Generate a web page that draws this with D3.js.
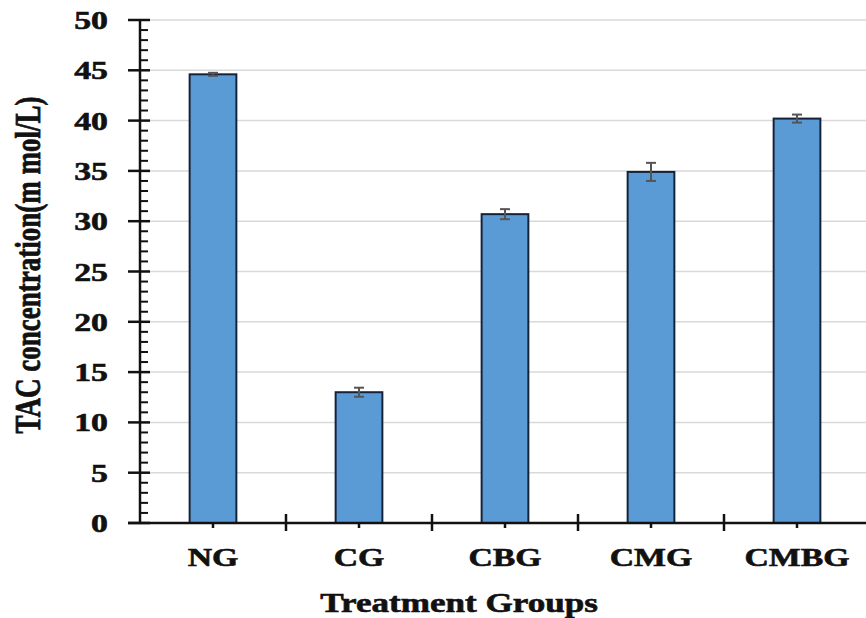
<!DOCTYPE html>
<html>
<head>
<meta charset="utf-8">
<script src="https://cdn.jsdelivr.net/npm/d3@7"></script>
<style>
  html, body { margin: 0; padding: 0; background: #fff; }
  svg { display: block; }
  text { font-family: "Liberation Serif", "Times New Roman", serif; font-weight: bold; fill: #111; stroke: #111; stroke-width: 0.6; }
</style>
</head>
<body>
<svg id="chart" width="866" height="618"></svg>
<script>
// Total antioxidant capacity by treatment group (mean ± error)
const groups = ["NG", "CG", "CBG", "CMG", "CMBG"];
const tac = [44.6, 13.0, 30.7, 34.9, 40.2];
const tacErr = [0.15, 0.45, 0.5, 0.9, 0.4];
const yTicks = [0, 5, 10, 15, 20, 25, 30, 35, 40, 45, 50];

const svg = d3.select("#chart");
const W = 866, H = 618;
const plotL = 140, plotR = 870, plotT = 20, plotB = 523;
const sx = 1.3; // horizontal stretch of lettering

const x = d3.scaleBand().domain(groups).range([plotL, plotR]).paddingInner(0).paddingOuter(0);
const y = d3.scaleLinear().domain([0, 50]).range([plotB, plotT]);
const barW = x.bandwidth() * 0.32;

// horizontal gridlines
svg.append("g")
  .selectAll("line")
  .data(yTicks.filter(d => d > 0))
  .join("line")
  .attr("x1", plotL).attr("x2", W)
  .attr("y1", d => y(d)).attr("y2", d => y(d))
  .attr("stroke", "#d9d9d9").attr("stroke-width", 1.5);

// bars
svg.append("g")
  .selectAll("rect")
  .data(groups)
  .join("rect")
  .attr("x", (d) => x(d) + x.bandwidth() / 2 - barW / 2)
  .attr("width", barW)
  .attr("y", (d, i) => y(tac[i]))
  .attr("height", (d, i) => y(0) - y(tac[i]))
  .attr("fill", "#5b9bd5")
  .attr("stroke", "#15233a")
  .attr("stroke-width", 2);

// error bars
const eb = svg.append("g").attr("stroke", "#555").attr("stroke-width", 2);
groups.forEach((g, i) => {
  const cx = x(g) + x.bandwidth() / 2;
  const hi = y(tac[i] + tacErr[i]), lo = y(tac[i] - tacErr[i]);
  eb.append("line").attr("x1", cx).attr("x2", cx).attr("y1", hi).attr("y2", lo);
  eb.append("line").attr("x1", cx - 5).attr("x2", cx + 5).attr("y1", hi).attr("y2", hi);
  eb.append("line").attr("x1", cx - 5).attr("x2", cx + 5).attr("y1", lo).attr("y2", lo);
});

// y axis with minor ticks every unit
const yAxis = svg.append("g").attr("stroke", "#111");
yAxis.append("line").attr("x1", plotL).attr("x2", plotL).attr("y1", plotT).attr("y2", plotB + 1)
  .attr("stroke-width", 2.5);
yAxis.selectAll("line.minor")
  .data(d3.range(0, 51).filter(v => v % 5 !== 0))
  .join("line").attr("class", "minor")
  .attr("x1", plotL).attr("x2", plotL + 8)
  .attr("y1", d => y(d)).attr("y2", d => y(d))
  .attr("stroke-width", 2);
yAxis.selectAll("line.major")
  .data(yTicks)
  .join("line").attr("class", "major")
  .attr("x1", plotL - 12).attr("x2", plotL + 10)
  .attr("y1", d => y(d)).attr("y2", d => y(d))
  .attr("stroke-width", 2.5);

svg.append("g")
  .selectAll("text")
  .data(yTicks)
  .join("text")
  .attr("transform", d => `translate(108,${y(d) + 9}) scale(${sx},1)`)
  .attr("text-anchor", "end")
  .attr("font-size", 26)
  .text(d => d);

// x axis
const xAxis = svg.append("g").attr("stroke", "#111");
xAxis.append("line").attr("x1", plotL - 12).attr("x2", W).attr("y1", plotB).attr("y2", plotB)
  .attr("stroke-width", 2.5);
xAxis.selectAll("line.sep")
  .data(groups.slice(1))
  .join("line").attr("class", "sep")
  .attr("x1", d => x(d)).attr("x2", d => x(d))
  .attr("y1", plotB - 9).attr("y2", plotB + 8)
  .attr("stroke-width", 2.5);
xAxis.selectAll("line.mid")
  .data(groups)
  .join("line").attr("class", "mid")
  .attr("x1", d => x(d) + x.bandwidth() / 2).attr("x2", d => x(d) + x.bandwidth() / 2)
  .attr("y1", plotB).attr("y2", plotB + 5)
  .attr("stroke-width", 2.5);

svg.append("g")
  .selectAll("text")
  .data(groups)
  .join("text")
  .attr("transform", d => `translate(${x(d) + x.bandwidth() / 2},566) scale(${sx},1)`)
  .attr("text-anchor", "middle")
  .attr("font-size", 26)
  .text(d => d);

// axis titles
svg.append("text")
  .attr("transform", `translate(459,612) scale(${sx},1)`)
  .attr("text-anchor", "middle")
  .attr("font-size", 27)
  .text("Treatment Groups");

svg.append("text")
  .attr("transform", `translate(40,265) scale(${sx},1) rotate(-90)`)
  .attr("text-anchor", "middle")
  .attr("font-size", 27)
  .text("TAC concentration(m mol/L)");
</script>
</body>
</html>
